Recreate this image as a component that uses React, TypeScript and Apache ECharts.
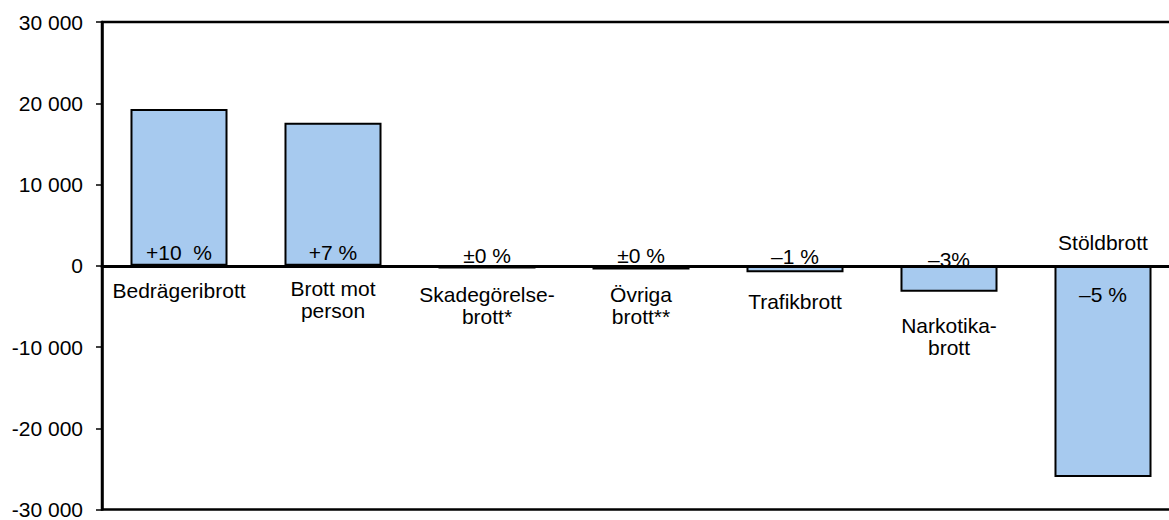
import React, { useEffect, useRef } from "react";
import * as echarts from "echarts";

const categories = [
  "Bedrägeribrott",
  "Brott mot\nperson",
  "Skadegörelse-\nbrott*",
  "Övriga\nbrott**",
  "Trafikbrott",
  "Narkotika-\nbrott",
  "Stöldbrott",
];
const changeValues = [19300, 17600, -350, -450, -800, -3200, -26000];
const percentLabels = ["+10  %", "+7 %", "±0 %", "±0 %", "–1 %", "–3%", "–5 %"];
const yMin = -30000;
const yMax = 30000;
const yInterval = 10000;

// styling (not data)
const labelPlacement = ["insideBottom", "insideBottom", "top", "top", "top", "top", "insideTop"];
const labelDistance = [3, 3, 0, 0, -1, -4, 18];
const catLabelOffset = [25, 23, 29, 29, 36, 60, -23];

const FONT = "'Liberation Sans', Arial, sans-serif";
const FS = 21;
const LH = 22;

function fmt(v: number): string {
  const s = Math.abs(v)
    .toString()
    .replace(/\B(?=(\d{3})+(?!\d))/g, " ");
  return (v < 0 ? "-" : "") + s;
}

export default function App() {
  const ref = useRef<HTMLDivElement>(null);
  useEffect(() => {
    if (!ref.current) return;
    const chart = echarts.init(ref.current, undefined, { renderer: "svg" });
    chart.setOption({
      animation: false,
      backgroundColor: "#fff",
      grid: {
        left: 102,
        top: 22,
        bottom: 10,
        width: 1078,
        show: true,
        borderColor: "#000",
        borderWidth: 2.5,
        backgroundColor: "transparent",
      },
      xAxis: {
        type: "category",
        data: categories,
        axisLine: { show: true, onZero: true, lineStyle: { color: "#000", width: 3 } },
        axisTick: { show: false },
        axisLabel: { show: false },
        splitLine: { show: false },
        z: 5,
      },
      yAxis: {
        type: "value",
        min: yMin,
        max: yMax,
        interval: yInterval,
        axisLine: { show: true, lineStyle: { color: "#000", width: 2.5 } },
        axisTick: { show: true, length: 6, lineStyle: { color: "#000", width: 1.5 } },
        axisLabel: {
          margin: 19,
          color: "#000",
          fontSize: FS,
          fontFamily: FONT,
          formatter: (v: number) => fmt(v),
        },
        splitLine: { show: false },
      },
      series: [
        {
          type: "bar",
          barWidth: "63%",
          data: changeValues.map((v, i) => ({
            value: v,
            label: {
              show: true,
              position: labelPlacement[i],
              distance: labelDistance[i],
              formatter: percentLabels[i],
            },
          })),
          itemStyle: { color: "#A7CAEF", borderColor: "#000", borderWidth: 2 },
          label: { color: "#000", fontSize: FS, fontFamily: FONT },
        },
        {
          type: "custom",
          clip: false,
          silent: true,
          data: categories.map((_, i) => [i, 0]),
          encode: { x: 0, y: 1 },
          renderItem: (params: any, api: any) => {
            const idx = params.dataIndex;
            const pt = api.coord([api.value(0), api.value(1)]);
            return {
              type: "text",
              x: pt[0],
              y: pt[1] + catLabelOffset[idx] - LH / 2,
              style: {
                text: categories[idx],
                textAlign: "center",
                textVerticalAlign: "top",
                fill: "#000",
                fontSize: FS,
                fontFamily: FONT,
                lineHeight: LH,
              },
            };
          },
        },
      ],
    });
    return () => chart.dispose();
  }, []);
  return (
    <div
      style={{
        position: "absolute",
        left: 0,
        top: 0,
        width: 1169,
        height: 520,
        overflow: "hidden",
        background: "#fff",
      }}
    >
      <div ref={ref} style={{ width: 1200, height: 520 }} />
    </div>
  );
}
